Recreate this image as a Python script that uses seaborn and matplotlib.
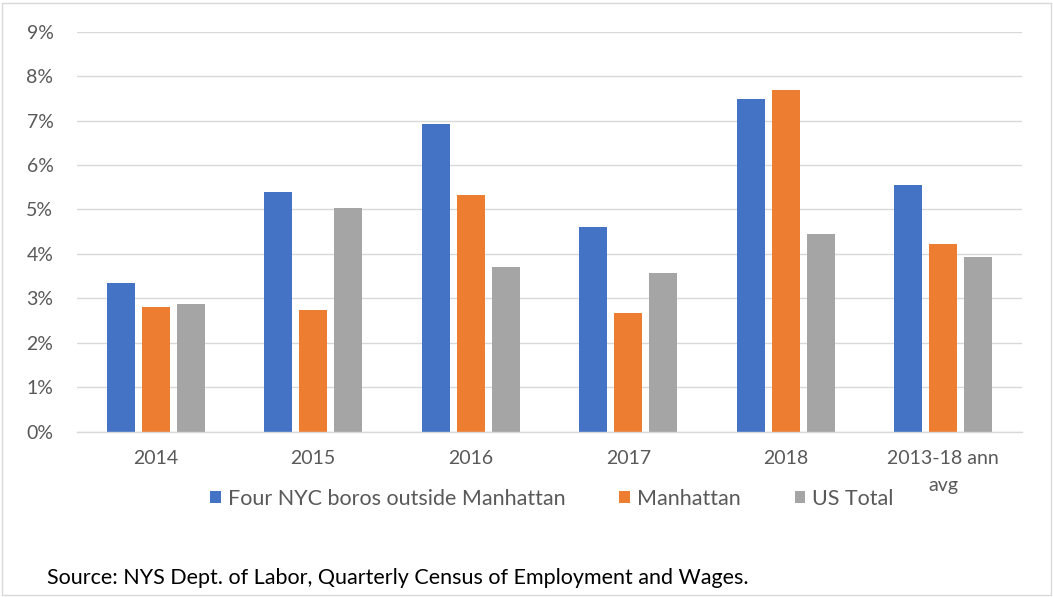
import matplotlib
matplotlib.use("Agg")
import matplotlib.pyplot as plt
import matplotlib.ticker as mtick
from matplotlib.patches import Rectangle
import seaborn as sns
import pandas as pd

categories = ["2014", "2015", "2016", "2017", "2018", "2013-18 ann\navg"]
series_names = ["Four NYC boros outside Manhattan", "Manhattan", "US Total"]
four_boros = [0.0334, 0.0539, 0.0693, 0.0461, 0.0748, 0.0554]
manhattan = [0.0281, 0.0273, 0.0533, 0.0266, 0.0768, 0.0422]
us_total = [0.0287, 0.0503, 0.0371, 0.0358, 0.0444, 0.0392]
colors = ["#4472C4", "#ED7D31", "#A5A5A5"]
source_text = "Source: NYS Dept. of Labor, Quarterly Census of Employment and Wages."

rows = []
for name, vals in zip(series_names, [four_boros, manhattan, us_total]):
    for c, v in zip(categories, vals):
        rows.append({"cat": c, "series": name, "value": v})
df = pd.DataFrame(rows)

sns.set_style("white")
plt.rcParams["font.family"] = ["Lato", "DejaVu Sans"]

W, H = 1053, 597
fig = plt.figure(figsize=(W / 100, H / 100), dpi=100)
ax = fig.add_axes([77 / W, 1 - 431.7 / H, (1022 - 77) / W, (431.7 - 31.7) / H])

sns.barplot(data=df, x="cat", y="value", hue="series", order=categories,
            hue_order=series_names, palette=colors, width=0.667, gap=0.21,
            linewidth=0, saturation=1, ax=ax, legend=True)

ax.set_ylim(0, 0.09)
ax.set_xlim(-0.5, len(categories) - 0.5)
ax.set_yticks([i / 100 for i in range(10)])
ax.yaxis.set_major_formatter(mtick.PercentFormatter(1.0, decimals=0))
ax.set_xlabel("")
ax.set_ylabel("")
ax.grid(axis="y", color="#D9D9D9", linewidth=1.0)
ax.set_axisbelow(True)
for s in ["top", "right", "left"]:
    ax.spines[s].set_visible(False)
ax.spines["bottom"].set_color("#D9D9D9")
ax.spines["bottom"].set_linewidth(1.0)
ax.tick_params(axis="both", length=0, labelsize=14, colors="#595959")
ax.tick_params(axis="y", pad=17)
ax.tick_params(axis="x", pad=13)
for t in ax.get_xticklabels():
    t.set_linespacing(1.75)

handles, labels = ax.get_legend_handles_labels()
ax.get_legend().remove()
fig.legend(handles, labels, loc="center", bbox_to_anchor=(552 / W, 1 - 499 / H),
           ncol=3, frameon=False, fontsize=15.5, labelcolor="#595959",
           handlelength=0.5, handleheight=0.5, handletextpad=0.32,
           columnspacing=2.5, borderpad=0, borderaxespad=0)

fig.text(47 / W, 1 - 578 / H, source_text, fontsize=15.5, color="black",
         ha="left", va="center")

fig.patches.append(Rectangle((2 / W, 2 / H), 1049 / W, 592 / H, transform=fig.transFigure,
                             fill=False, edgecolor="#D9D9D9", linewidth=1.0))

fig.savefig("out.png", dpi=100)
